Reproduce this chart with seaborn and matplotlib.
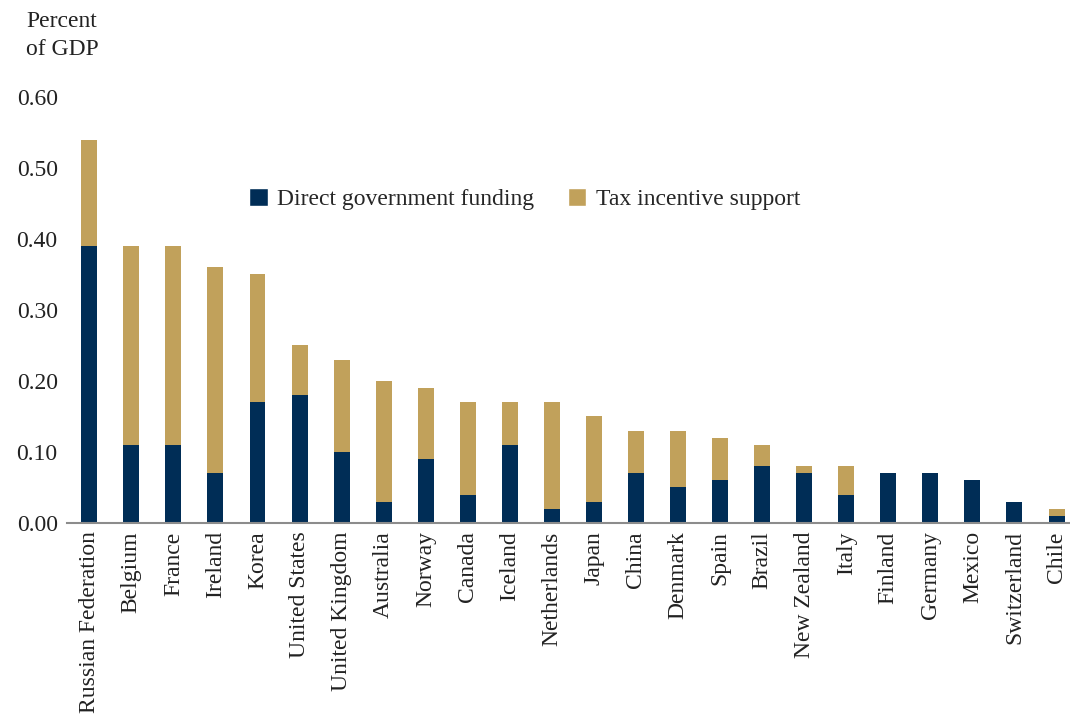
import matplotlib
matplotlib.use("Agg")
import matplotlib.pyplot as plt
import seaborn as sns
import pandas as pd
from matplotlib.patches import Patch
from matplotlib.ticker import FormatStrFormatter

countries = ['Russian Federation', 'Belgium', 'France', 'Ireland', 'Korea',
             'United States', 'United Kingdom', 'Australia', 'Norway', 'Canada',
             'Iceland', 'Netherlands', 'Japan', 'China', 'Denmark', 'Spain',
             'Brazil', 'New Zealand', 'Italy', 'Finland', 'Germany', 'Mexico',
             'Switzerland', 'Chile']
direct = [0.39, 0.11, 0.11, 0.07, 0.17, 0.18, 0.10, 0.03, 0.09, 0.04,
          0.11, 0.02, 0.03, 0.07, 0.05, 0.06, 0.08, 0.07, 0.04, 0.07,
          0.07, 0.06, 0.03, 0.01]
tax = [0.15, 0.28, 0.28, 0.29, 0.18, 0.07, 0.13, 0.17, 0.10, 0.13,
       0.06, 0.15, 0.12, 0.06, 0.08, 0.06, 0.03, 0.01, 0.04, 0.0,
       0.0, 0.0, 0.0, 0.01]

df = pd.DataFrame({'Country': countries, 'Direct': direct, 'Tax': tax})
df['Total'] = df['Direct'] + df['Tax']

navy = '#002D56'
gold = '#C1A15B'

sns.set_style('white')
plt.rcParams['font.family'] = ['Liberation Serif', 'DejaVu Serif']

fig = plt.figure(figsize=(10.7, 7.18), dpi=100)
ax = fig.add_axes([0.063, 0.2716, 0.937, 0.5934])

sns.barplot(data=df, x='Country', y='Total', color=gold, width=0.38,
            saturation=1, linewidth=0, ax=ax)
sns.barplot(data=df, x='Country', y='Direct', color=navy, width=0.38,
            saturation=1, linewidth=0, ax=ax)

ax.set_ylim(0, 0.6)
ax.set_xlim(-0.52, len(countries) - 0.68)
ax.set_yticks([0, 0.1, 0.2, 0.3, 0.4, 0.5, 0.6])
ax.yaxis.set_major_formatter(FormatStrFormatter('%.2f'))
ax.tick_params(axis='both', length=0, labelsize=17, colors='#222222')
ax.tick_params(axis='y', pad=7)
ax.tick_params(axis='x', pad=6)
plt.setp(ax.get_xticklabels(), rotation=90)
ax.set_xlabel('')
ax.set_ylabel('')

for s in ['top', 'right', 'left']:
    ax.spines[s].set_visible(False)
ax.spines['bottom'].set_color('#8c8c8c')
ax.spines['bottom'].set_linewidth(1.5)

fig.text(0.058, 0.916, 'Percent\nof GDP', ha='center', va='bottom',
         fontsize=17, color='#222222', linespacing=1.45)

handles = [Patch(facecolor=navy, label='Direct government funding'),
           Patch(facecolor=gold, label='Tax incentive support')]
ax.legend(handles=handles, loc='center left', bbox_to_anchor=(0.16, 0.76),
          ncol=2, frameon=False, fontsize=17, handlelength=0.8,
          handleheight=0.8, handletextpad=0.4, columnspacing=1.4)

fig.savefig('out.png', dpi=100)
